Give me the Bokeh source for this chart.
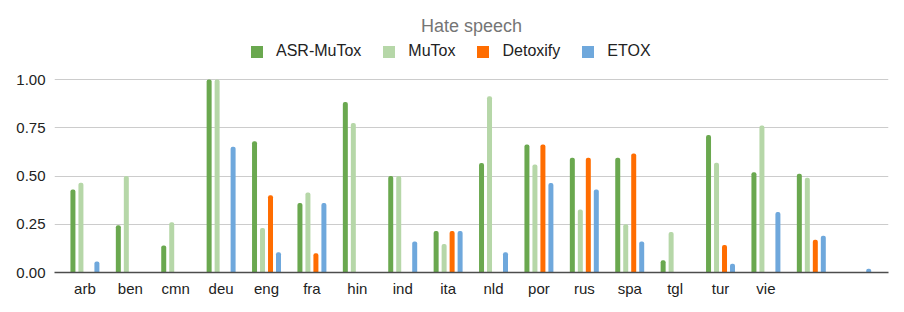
import math
from bokeh.plotting import figure
from bokeh.models import (ColumnDataSource, FixedTicker, NumeralTickFormatter,
                          Legend, LegendItem, Range1d)
from bokeh.transform import dodge
from bokeh.embed import file_html
from bokeh.resources import INLINE

nan = float("nan")

langs = ["arb", "ben", "cmn", "deu", "eng", "fra", "hin", "ind", "ita", "nld",
         "por", "rus", "spa", "tgl", "tur", "vie", "", ""]
asr_mutox = [0.43, 0.245, 0.14, 1.0, 0.68, 0.36, 0.884, 0.50, 0.215, 0.568,
             0.663, 0.594, 0.595, 0.064, 0.712, 0.519, 0.512, nan]
mutox = [0.465, 0.50, 0.26, 1.0, 0.23, 0.415, 0.774, 0.50, 0.148, 0.913,
         0.559, 0.326, 0.25, 0.21, 0.569, 0.762, 0.491, nan]
detoxify = [nan, nan, nan, nan, 0.40, 0.10, nan, nan, 0.215, nan,
            0.663, 0.594, 0.616, nan, 0.142, nan, 0.17, nan]
etox = [0.057, nan, nan, 0.651, 0.105, 0.36, nan, 0.16, 0.215, 0.105,
        0.464, 0.43, 0.16, nan, 0.045, 0.314, 0.19, 0.02]
y_ticks = [0, 0.25, 0.5, 0.75, 1.0]

series_names = ["ASR-MuTox", "MuTox", "Detoxify", "ETOX"]
series_colors = ["#6aa84f", "#b6d7a8", "#ff6d01", "#6fa8dc"]

idx = list(range(len(langs)))
source = ColumnDataSource(dict(x=idx, asr=asr_mutox, mutox=mutox,
                               detox=detoxify, etox=etox))

FONT = "Liberation Sans"

p = figure(width=904, height=312, output_backend="svg",
           toolbar_location=None,
           x_range=Range1d(-0.67, 17.70), y_range=Range1d(0, 1.2228),
           min_border_left=54, min_border_right=16, min_border_top=36,
           min_border_bottom=40, title="Hate speech")
p.outline_line_color = None
p.background_fill_color = "white"

p.title.align = "center"
p.title.text_font = FONT
p.title.text_font_size = "18px"
p.title.text_font_style = "normal"
p.title.text_color = "#757575"
p.title.standoff = 2

cols = ["asr", "mutox", "detox", "etox"]
offsets = [-0.264, -0.088, 0.088, 0.264]
legend_items = []
for name, col, off, color in zip(series_names, cols, offsets, series_colors):
    p.vbar(x=dodge("x", off), top=col, bottom=0, width=0.11, source=source,
           fill_color=color, line_color=None, border_radius=(2, 2, 0, 0))
    # legend swatch renderer (a single undrawn NaN row, only for the key)
    sw = p.quad(left=[nan], right=[nan], top=[nan], bottom=[nan],
                fill_color=color, line_color=None)
    legend_items.append(LegendItem(label=name, renderers=[sw]))

legend = Legend(items=legend_items,
                orientation="horizontal", location=(195, 212),
                label_text_font=FONT, label_text_font_size="16px",
                label_text_color="#222222", glyph_width=15, glyph_height=15,
                label_standoff=12, spacing=20, border_line_color=None,
                background_fill_alpha=0, padding=0, margin=0)
p.add_layout(legend, "center")

# y axis
p.yaxis.ticker = FixedTicker(ticks=y_ticks)
p.yaxis.formatter = NumeralTickFormatter(format="0.00")
p.yaxis.axis_line_color = None
p.yaxis.major_tick_line_color = None
p.yaxis.minor_tick_line_color = None
p.yaxis.major_tick_out = 0
p.yaxis.major_tick_in = 0
p.yaxis.major_label_standoff = 9
p.yaxis.major_label_text_font = FONT
p.yaxis.major_label_text_font_size = "15px"
p.yaxis.major_label_text_color = "#222222"

# x axis
p.xaxis.ticker = FixedTicker(ticks=idx)
p.xaxis.major_label_overrides = {i: l for i, l in zip(idx, langs)}
p.xaxis.axis_line_color = "#4d4d4d"
p.xaxis.axis_line_width = 1.6
p.xaxis.major_tick_line_color = None
p.xaxis.minor_tick_line_color = None
p.xaxis.major_tick_out = 0
p.xaxis.major_tick_in = 0
p.xaxis.major_label_standoff = 7
p.xaxis.major_label_text_font = FONT
p.xaxis.major_label_text_font_size = "15px"
p.xaxis.major_label_text_color = "#222222"

p.xgrid.grid_line_color = None
p.ygrid.ticker = FixedTicker(ticks=y_ticks)
p.ygrid.grid_line_color = "#cccccc"
p.ygrid.grid_line_width = 1

open("out.html", "w").write(file_html(p, INLINE))
